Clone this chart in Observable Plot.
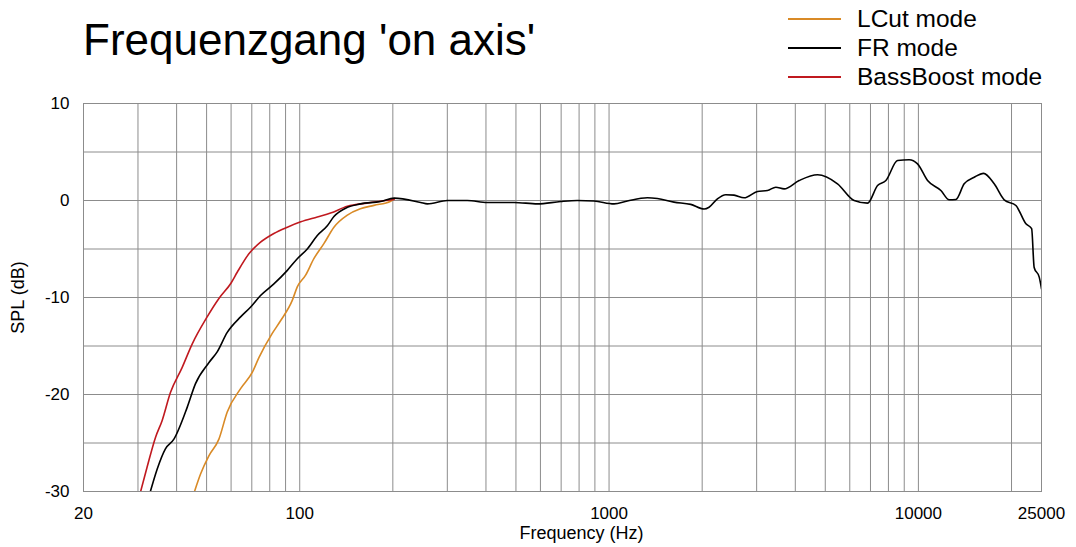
<!DOCTYPE html>
<html><head><meta charset="utf-8">
<script src="https://cdn.jsdelivr.net/npm/d3@7"></script>
<script src="https://cdn.jsdelivr.net/npm/@observablehq/plot@0.6"></script>
<style>
body{margin:0;background:#fff;font-family:"Liberation Sans",Arial,sans-serif;}
#wrap{position:relative;width:1076px;height:547px;}
#title{position:absolute;left:83px;top:18px;font-size:44px;line-height:1;color:#000;white-space:nowrap;}
#legend{position:absolute;left:788px;top:4px;font-size:24.5px;color:#000;}
.li{display:flex;align-items:center;height:29px;}
.sw{width:53px;height:0;border-top:2px solid;margin-right:16px;}
</style></head>
<body><div id="wrap"><div id="title">Frequenzgang 'on axis'</div><div id="legend"></div></div>
<script>
// Series: FR mode (black)
const frFreq = [32.9,34.6,36.8,39.2,43.3,46.0,50.9,54.1,58.3,64.4,69.3,74.7,82.5,91.2,98.2,105.8,114,122.8,129,142.6,157,182.6,202,246,258.6,300,348,404,493,587,698,790,894,1038,1146,1330,1433,1622,1837,2029,2105,2240,2384,2536,2733,3019,3252,3460,3681,4116,4720,5477,6197,6848,7379,7852,8565,9336,9936,10706,11823,12578,13219,14060,15152,16243,17580,18940,20665,22264,23230,23670,24580,25000];
const frSpl  = [-30,-27.7,-25.6,-24.6,-21.3,-18.9,-16.7,-15.6,-13.6,-12.0,-11.0,-9.8,-8.6,-7.2,-6.0,-5.0,-3.6,-2.6,-1.65,-0.7,-0.35,-0.1,0.25,-0.2,-0.35,0,0,-0.2,-0.2,-0.35,-0.1,0,-0.05,-0.35,-0.05,0.28,0.2,-0.17,-0.4,-0.88,-0.7,0.17,0.6,0.55,0.28,0.93,1.03,1.37,1.2,2.06,2.65,1.72,0,-0.27,1.55,2.06,4.12,4.2,3.78,2.06,1.03,0.07,0.1,1.72,2.4,2.8,1.72,0.07,-0.52,-2.4,-2.9,-6.9,-7.9,-9.1];
// Series: LCut mode (orange)
const lcutFreq = [45.7,47.8,50.9,54.8,58.3,64.4,70.3,73.8,81.5,86.7,94.6,98.2,104.5,111.1,119.7,129,142.6,157,173.8,196.8,202];
const lcutSpl  = [-30,-28.2,-26.3,-24.6,-21.8,-19.4,-17.7,-16.2,-13.7,-12.4,-10.3,-8.9,-7.7,-6.0,-4.45,-2.75,-1.5,-0.85,-0.5,-0.07,0.2];
// Series: BassBoost mode (red)
const bbFreq = [30.6,32.1,34.2,35.9,38.2,41.7,44.9,50.2,54.8,60,62.8,68.5,74.7,82.5,91.2,100.8,114,125.8,142.6,165,202];
const bbSpl  = [-30,-27.5,-24.4,-22.7,-19.8,-17.2,-14.8,-12.0,-10.1,-8.5,-7.4,-5.5,-4.3,-3.4,-2.75,-2.2,-1.7,-1.3,-0.6,-0.27,0.1];

const seriesNames = ["LCut mode","FR mode","BassBoost mode"];
const seriesColors = ["#d98a26","#000000","#c0191f"];
const xTicks = [20,100,1000,10000,25000];
const yTicks = [-30,-20,-10,0,10];
const xGrid = [30,40,50,60,70,80,90,100,200,300,400,500,600,700,800,900,1000,2000,3000,4000,5000,6000,7000,8000,9000,10000,20000];
const yGrid = [-25,-20,-15,-10,-5,0,5];
const xLabel = "Frequency (Hz)";
const yLabel = "SPL (dB)";

const toRows = (fs, vs, s) => fs.map((f,i)=>({f, v: vs[i], s}));
const rows = [
  ...toRows(lcutFreq, lcutSpl, seriesNames[0]),
  ...toRows(bbFreq, bbSpl, seriesNames[2]),
  ...toRows(frFreq, frSpl, seriesNames[1])
];

const chart = Plot.plot({
  width: 1076, height: 547,
  marginLeft: 83, marginRight: 35, marginTop: 103, marginBottom: 56,
  style: {fontFamily: '"Liberation Sans", Arial, sans-serif', fontSize: "17px", color: "#000", background: "transparent"},
  x: {type: "log", domain: [20, 25000]},
  y: {domain: [-30, 10]},
  color: {domain: seriesNames, range: seriesColors},
  marks: [
    Plot.ruleX(xGrid, {stroke: "#8c8c8c", strokeWidth: 1}),
    Plot.ruleY(yGrid, {stroke: "#8c8c8c", strokeWidth: 1}),
    Plot.frame({stroke: "#8c8c8c", strokeWidth: 1}),
    Plot.axisX({ticks: xTicks, tickFormat: d => String(d), tickSize: 0, tickPadding: 15, fontSize: 17, label: null}),
    Plot.axisY({ticks: yTicks, tickSize: 0, tickPadding: 14, tickFormat: d => String(d), fontSize: 17, label: null}),
    Plot.text([xLabel], {text: d => d, frameAnchor: "bottom", dx: 19, dy: 42, lineAnchor: "middle", fontSize: 18, fill: "#000"}),
    Plot.axisY({ticks: [], tickSize: 0, label: yLabel, labelAnchor: "center", labelOffset: 72, labelArrow: "none", fontSize: 18}),
    Plot.line(rows, {x: "f", y: "v", z: "s", stroke: "s", strokeWidth: 1.6, curve: "monotone-x", clip: true})
  ]
});
document.getElementById("wrap").appendChild(chart);
chart.style.position = "absolute"; chart.style.left = "0"; chart.style.top = "0";

const lg = document.getElementById("legend");
seriesNames.forEach((n,i)=>{
  const d = document.createElement("div"); d.className = "li";
  const s = document.createElement("div"); s.className = "sw"; s.style.borderTopColor = seriesColors[i];
  const t = document.createElement("span"); t.textContent = n;
  d.appendChild(s); d.appendChild(t); lg.appendChild(d);
});
</script></body></html>
